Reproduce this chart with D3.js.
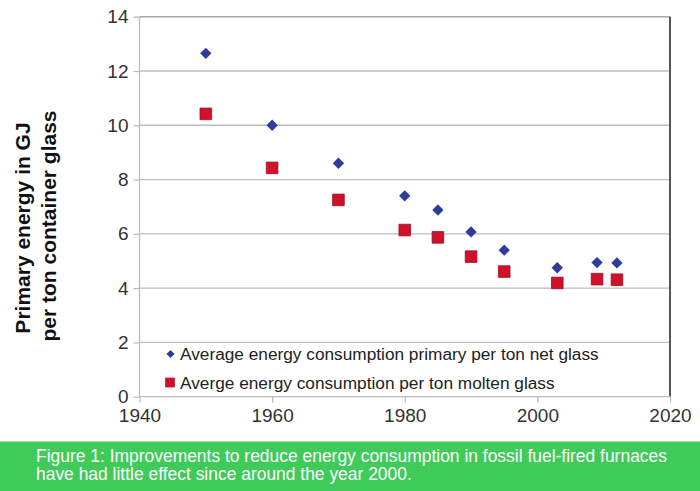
<!DOCTYPE html>
<html>
<head>
<meta charset="utf-8">
<script src="https://cdn.jsdelivr.net/npm/d3@7"></script>
<style>
  body { margin: 0; background: #fff; }
  svg { display: block; font-family: Arial, "Liberation Sans", sans-serif; }
</style>
</head>
<body>
<svg id="chart" width="700" height="491"></svg>
<script>
var years = [1950, 1960, 1970, 1980, 1985, 1990, 1995, 2003, 2009, 2012]
var netGlass = [12.65, 10.0, 8.6, 7.4, 6.88, 6.07, 5.4, 4.75, 4.94, 4.93]
var moltenGlass = [10.42, 8.43, 7.25, 6.14, 5.87, 5.16, 4.61, 4.19, 4.33, 4.31]
var xTicks = [1940, 1960, 1980, 2000, 2020]
var yTicks = [0, 2, 4, 6, 8, 10, 12, 14]
var legendLabels = ['Average energy consumption primary per ton net glass', 'Averge energy consumption per ton molten glass']
var caption = ['Figure 1: Improvements to reduce energy consumption in fossil fuel-fired furnaces', 'have had little effect since around the year 2000.']

var svg = d3.select('#chart')
var plotLeft = 139.5, plotRight = 670, plotTop = 16.7, plotBottom = 396.7

var x = d3.scaleLinear().domain([1940, 2020]).range([plotLeft, plotRight])
var y = d3.scaleLinear().domain([0, 14]).range([plotBottom, plotTop])

// grid
svg.append('g').selectAll('line').data(yTicks.filter(function(d){ return d > 0 && d < 14 }))
  .enter().append('line')
  .attr('x1', plotLeft).attr('x2', plotRight)
  .attr('y1', function(d){ return y(d) }).attr('y2', function(d){ return y(d) })
  .attr('stroke', '#bdbdbd').attr('stroke-width', 1.3)

// frame
svg.append('line').attr('x1', plotLeft).attr('x2', plotRight).attr('y1', plotTop).attr('y2', plotTop).attr('stroke', '#a8a8a8').attr('stroke-width', 1.5)
svg.append('line').attr('x1', plotRight).attr('x2', plotRight).attr('y1', plotTop).attr('y2', plotBottom).attr('stroke', '#555').attr('stroke-width', 2)

// axes
var yAxis = d3.axisLeft(y).tickValues(yTicks).tickSize(6).tickPadding(5)
var xAxis = d3.axisBottom(x).tickValues(xTicks).tickSize(6).tickPadding(6).tickFormat(d3.format('d'))

var gy = svg.append('g').attr('transform', 'translate(' + plotLeft + ',0)').call(yAxis)
var gx = svg.append('g').attr('transform', 'translate(0,' + plotBottom + ')').call(xAxis)
;[gx, gy].forEach(function(g) {
  g.select('.domain').attr('stroke', '#bdbdbd').attr('stroke-width', 1.3)
  g.selectAll('.tick line').attr('stroke', '#bdbdbd').attr('stroke-width', 1.3)
  g.selectAll('.tick text').attr('fill', '#333').style('font-size', '19px').style('font-family', 'Arial, "Liberation Sans", sans-serif')
})
gx.select('.domain').attr('d', 'M' + plotLeft + ',0H' + plotRight)
gy.select('.domain').attr('d', 'M0,' + plotBottom + 'V' + plotTop)

var blue = '#2e3d9c', red = '#d0112b'
var diamond = d3.symbol().type(d3.symbolDiamond2).size(82)
var square = d3.symbol().type(d3.symbolSquare).size(135)

svg.append('g').selectAll('path').data(years)
  .enter().append('path')
  .attr('d', diamond)
  .attr('transform', function(d, i){ return 'translate(' + x(d) + ',' + y(netGlass[i]) + ')' })
  .attr('fill', blue)

svg.append('g').selectAll('path').data(years)
  .enter().append('path')
  .attr('d', square)
  .attr('transform', function(d, i){ return 'translate(' + x(d) + ',' + y(moltenGlass[i]) + ')' })
  .attr('fill', red).attr('stroke', '#a00d22').attr('stroke-width', 0.8)

// legend
var legend = svg.append('g')
legend.append('path').attr('d', d3.symbol().type(d3.symbolDiamond2).size(42)).attr('transform', 'translate(170.5,354)').attr('fill', blue)
legend.append('path').attr('d', d3.symbol().type(d3.symbolSquare).size(95)).attr('transform', 'translate(170,382.5)').attr('fill', red)
legend.selectAll('text').data(legendLabels)
  .enter().append('text')
  .attr('x', 180).attr('y', function(d, i){ return 359.5 + i * 29 })
  .attr('fill', '#222').style('font-size', '17.25px')
  .text(function(d){ return d })

// y title
var titles = [['Primary energy in GJ', 30, 228], ['per ton container glass', 56, 226]]
svg.append('g').selectAll('text').data(titles)
  .enter().append('text')
  .attr('transform', function(d){ return 'translate(' + d[1] + ',' + d[2] + ')rotate(-90)' })
  .attr('text-anchor', 'middle')
  .attr('fill', '#111').style('font-size', '21px').style('font-weight', 'bold')
  .text(function(d){ return d[0] })

// caption band
svg.append('rect').attr('x', 0).attr('y', 441.5).attr('width', 700).attr('height', 50).attr('fill', '#3ecb59')
svg.append('g').selectAll('text').data(caption)
  .enter().append('text')
  .attr('x', 36).attr('y', function(d, i){ return 461.5 + i * 18.5 })
  .attr('fill', '#fff').style('font-size', '17.45px')
  .text(function(d){ return d })
</script>
</body>
</html>
